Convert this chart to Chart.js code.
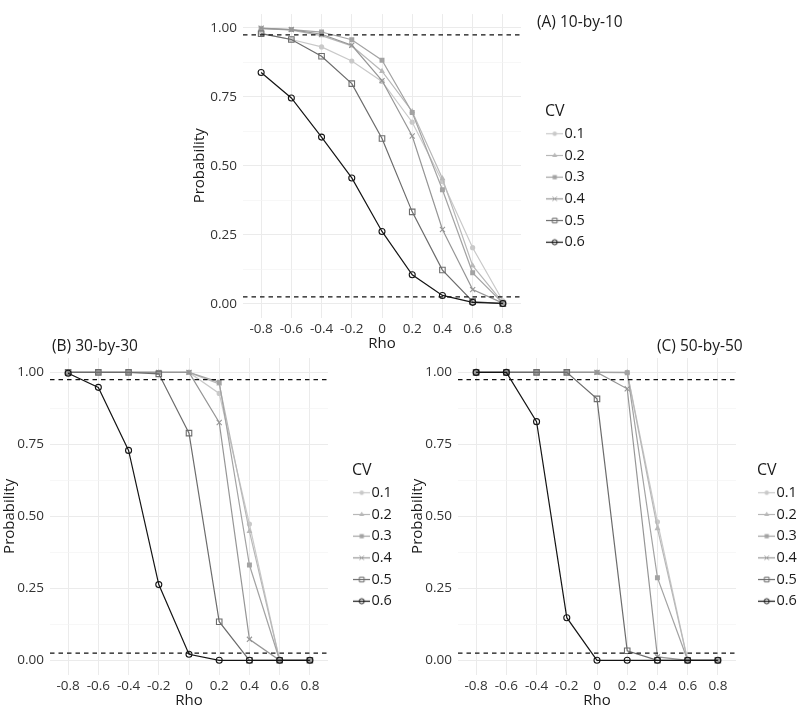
<!DOCTYPE html>
<html>
<head>
<meta charset="utf-8">
<script src="https://cdn.jsdelivr.net/npm/chart.js@4.4.1/dist/chart.umd.min.js"></script>
<style>
  body { margin: 0; background: #fff; width: 800px; height: 707px; position: relative; overflow: hidden; font-family: "Open Sans", sans-serif; }
  canvas { position: absolute; }
  .ttl { position: absolute; font-size: 15.5px; line-height: 1; color: #1a1a1a; white-space: nowrap; }
</style>
</head>
<body>
<canvas id="chartA" width="640" height="360" style="left:160px;top:0px"></canvas>
<canvas id="chartB" width="410" height="380" style="left:0px;top:340px"></canvas>
<canvas id="chartC" width="420" height="380" style="left:400px;top:340px"></canvas>
<div class="ttl" style="left:537px;top:14px">(A) 10-by-10</div>
<div class="ttl" style="left:52px;top:338px">(B) 30-by-30</div>
<div class="ttl" style="left:657px;top:338px">(C) 50-by-50</div>
<script>
// categories and ticks
const rho = [-0.8, -0.6, -0.4, -0.2, 0, 0.2, 0.4, 0.6, 0.8];
const cvLevels = ['0.1', '0.2', '0.3', '0.4', '0.5', '0.6'];
const yTicks = [0, 0.25, 0.5, 0.75, 1];
const yMinor = [0.125, 0.375, 0.625, 0.875];
const thresholds = [0.025, 0.975];

// (A) 10-by-10
const a_cv1 = [0.980, 0.958, 0.931, 0.880, 0.806, 0.658, 0.443, 0.203, 0.010];
const a_cv2 = [0.998, 0.992, 0.972, 0.935, 0.843, 0.697, 0.454, 0.138, 0.004];
const a_cv3 = [0.997, 0.994, 0.985, 0.957, 0.883, 0.693, 0.413, 0.112, 0.002];
const a_cv4 = [0.999, 0.994, 0.977, 0.937, 0.809, 0.608, 0.269, 0.051, 0.002];
const a_cv5 = [0.979, 0.958, 0.897, 0.798, 0.599, 0.333, 0.122, 0.008, 0.000];
const a_cv6 = [0.838, 0.746, 0.604, 0.456, 0.262, 0.105, 0.030, 0.005, 0.001];

// (B) 30-by-30
const b_cv1 = [1, 1, 1, 1, 1, 0.927, 0.473, 0, 0];
const b_cv2 = [1, 1, 1, 1, 1, 0.960, 0.448, 0, 0];
const b_cv3 = [1, 1, 1, 1, 1, 0.966, 0.331, 0, 0];
const b_cv4 = [1, 1, 1, 1, 1, 0.826, 0.073, 0, 0];
const b_cv5 = [1, 1, 1, 0.995, 0.789, 0.134, 0, 0, 0];
const b_cv6 = [0.997, 0.948, 0.729, 0.263, 0.021, 0, 0, 0, 0];

// (C) 50-by-50
const c_cv1 = [1, 1, 1, 1, 1, 1, 0.481, 0, 0];
const c_cv2 = [1, 1, 1, 1, 1, 1, 0.458, 0, 0];
const c_cv3 = [1, 1, 1, 1, 1, 0.999, 0.287, 0, 0];
const c_cv4 = [1, 1, 1, 1, 1, 0.943, 0.012, 0, 0];
const c_cv5 = [1, 1, 1, 1, 0.908, 0.033, 0, 0, 0];
const c_cv6 = [1, 1, 0.829, 0.148, 0, 0, 0, 0, 0];

// styles per CV level
const cvColor = ['#c9c9c9', '#b8b8b8', '#a3a3a3', '#969696', '#6c6c6c', '#151515'];
const cvShape = ['circle', 'triangle', 'rect', 'crossRot', 'rect', 'circle'];
const cvFilled = [true, true, true, false, false, false];
const cvRadius = [2.6, 3.4, 3.5, 3.6, 3.9, 3.0];

const tickFont = { family: '"Open Sans", sans-serif', size: 13.5 };
const titleFont = { family: '"Open Sans", sans-serif', size: 15 };

// small line + marker swatches for the legend
function makeIcon(i) {
    const c = document.createElement('canvas');
    c.width = 17; c.height = 9;
    const ctx = c.getContext('2d');
    ctx.strokeStyle = cvColor[i];
    ctx.lineWidth = 1.2;
    ctx.beginPath(); ctx.moveTo(0, 4.5); ctx.lineTo(17, 4.5); ctx.stroke();
    ctx.fillStyle = cvFilled[i] ? cvColor[i] : 'rgba(0,0,0,0)';
    ctx.lineWidth = 1;
    Chart.helpers.drawPoint(ctx, { pointStyle: cvShape[i], rotation: 0, radius: cvRadius[i] * 0.85, borderWidth: cvFilled[i] ? 0 : 1 }, 8.5, 4.5);
    return c;
}
const legendIcons = cvLevels.map((_, i) => makeIcon(i));

const thresholdLines = {
    id: 'thresholdLines',
    afterDatasetsDraw(chart) {
        const { ctx, chartArea, scales } = chart;
        ctx.save();
        ctx.strokeStyle = '#111';
        ctx.lineWidth = 1.2;
        ctx.setLineDash([4.5, 4]);
        thresholds.forEach(t => {
            const y = scales.y.getPixelForValue(t);
            ctx.beginPath(); ctx.moveTo(chartArea.left, y); ctx.lineTo(chartArea.right, y); ctx.stroke();
        });
        ctx.restore();
    }
};

function makePanel(id, series, lay) {
    const datasets = series.map((vals, i) => ({
        label: cvLevels[i],
        data: rho.map((r, k) => ({ x: r, y: vals[k] })),
        borderColor: cvColor[i],
        backgroundColor: cvColor[i],
        borderWidth: 1.2,
        pointStyle: cvShape[i],
        pointRadius: cvRadius[i],
        pointBackgroundColor: cvFilled[i] ? cvColor[i] : 'rgba(0,0,0,0)',
        pointBorderColor: cvColor[i],
        pointBorderWidth: cvFilled[i] ? 0 : 1.1,
        tension: 0,
        order: series.length - 1 - i
    }));

    const chart = new Chart(document.getElementById(id), {
        type: 'line',
        data: { datasets },
        plugins: [thresholdLines],
        options: {
            responsive: false,
            animation: false,
            devicePixelRatio: 1,
            layout: { padding: { top: lay.top, right: 0, bottom: 0, left: 0 } },
            plugins: {
                tooltip: { enabled: false },
                legend: {
                    position: 'right',
                    align: 'center',
                    title: { display: true, text: 'CV', position: 'start', color: '#1a1a1a',
                             font: { family: '"Open Sans", sans-serif', size: 16, lineHeight: 1 }, padding: 0 },
                    labels: {
                        usePointStyle: true,
                        pointStyleWidth: 5,
                        padding: 7.2,
                        color: '#1a1a1a',
                        font: { family: '"Open Sans", sans-serif', size: 14.5 },
                        generateLabels: ch => ch.data.datasets.map((ds, i) => ({
                            text: ds.label, pointStyle: legendIcons[i], lineWidth: 0,
                            fillStyle: 'transparent', strokeStyle: 'transparent',
                            hidden: false, datasetIndex: i
                        }))
                    }
                }
            },
            scales: {
                x: {
                    type: 'linear', min: -0.92, max: 0.92,
                    afterBuildTicks: s => { s.ticks = rho.map(v => ({ value: v })); },
                    afterFit: s => { s.height = lay.xAxisH; },
                    grid: { color: '#ebebeb', lineWidth: 1, drawTicks: false },
                    border: { display: false },
                    ticks: { padding: 3.5, color: '#333', font: tickFont, autoSkip: false, maxRotation: 0, minRotation: 0,
                             callback: v => String(Math.round(v * 10) / 10) },
                    title: { display: true, text: 'Rho', color: '#1a1a1a', font: titleFont, padding: { top: 0, bottom: lay.xTitlePad } }
                },
                y: {
                    type: 'linear', min: -0.05, max: 1.05,
                    afterBuildTicks: s => { s.ticks = yTicks.concat(yMinor).sort((a, b) => a - b).map(v => ({ value: v })); },
                    afterFit: s => { s.width = lay.yAxisW; },
                    grid: {
                        drawTicks: false,
                        color: c => yTicks.includes(c.tick.value) ? '#ebebeb' : '#f3f3f3',
                        lineWidth: c => yTicks.includes(c.tick.value) ? 1 : 0.7
                    },
                    border: { display: false },
                    ticks: { padding: 6, color: '#333', font: tickFont, autoSkip: false,
                             callback: v => yTicks.includes(v) ? v.toFixed(2) : '' },
                    title: { display: true, text: 'Probability', color: '#1a1a1a', font: titleFont, padding: { top: lay.yTitlePad, bottom: 0 } }
                },
                gap: {
                    type: 'linear', position: 'right', display: true,
                    grid: { display: false }, border: { display: false }, ticks: { display: false },
                    afterFit: s => { s.width = lay.gap; }
                }
            }
        }
    });

    // pin the right edge of the plot area so the legend sits where it should
    const d = chart.chartArea.right - lay.right;
    chart.config.options.layout.padding.right = d;
    chart.update('none');
    return chart;
}

makePanel('chartA', [a_cv1, a_cv2, a_cv3, a_cv4, a_cv5, a_cv6],
    { top: 0, yAxisW: 83, xAxisH: 42.5, right: 361, gap: 24, yTitlePad: 31, xTitlePad: 7 });
makePanel('chartB', [b_cv1, b_cv2, b_cv3, b_cv4, b_cv5, b_cv6],
    { top: 18, yAxisW: 50, xAxisH: 45.3, right: 328, gap: 24, yTitlePad: 1, xTitlePad: 10 });
makePanel('chartC', [c_cv1, c_cv2, c_cv3, c_cv4, c_cv5, c_cv6],
    { top: 18, yAxisW: 58, xAxisH: 45.3, right: 336, gap: 21, yTitlePad: 9, xTitlePad: 10 });
</script>
</body>
</html>
